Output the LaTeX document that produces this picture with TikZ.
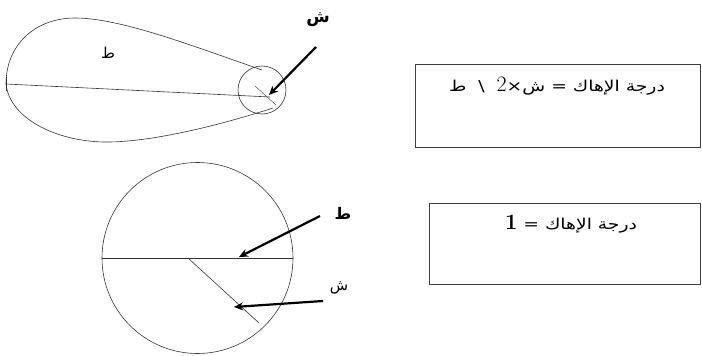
\documentclass[tikz,border=0pt]{standalone}
\usepackage{fontspec}
\usetikzlibrary{arrows.meta}
\newfontfamily\arabicfont[Script=Arabic]{DejaVu Sans}
\newfontfamily\arabicwide[Script=Arabic,FakeStretch=1.25]{DejaVu Sans}
\TeXXeTstate=1
\tikzset{
  thin line/.style={draw=black!80, line width=0.6pt},
  fat arrow/.style={draw=black, line width=2.2pt, -{Stealth[length=9pt,width=8pt]}},
  eqbox/.style={draw=black!75, line width=0.9pt},
  lbl/.style={font=\arabicfont, inner sep=0pt},
}
\begin{document}
\begin{tikzpicture}[x=1pt,y=-1pt]
\useasboundingbox (0,0) rectangle (702,356);
% top figure: teardrop
\coordinate (L) at (6,84);
\coordinate (TR) at (262,70);
\coordinate (BR) at (273,108);
\draw[thin line] (L) .. controls (6,45) and (35,18) .. (75,18)
   .. controls (120,18) and (190,45) .. (TR);
\draw[thin line] (L) .. controls (10,120) and (60,143) .. (110,142)
   .. controls (160,141) and (230,122) .. (BR);
\draw[thin line] (6,77) -- (6,91);
\node[thin line, circle, minimum size=48pt, inner sep=0pt] (sc) at (262,90) {};
\coordinate (de) at (270,97);
\draw[thin line] (L) -- (de);
\coordinate (sa) at (255,86);
\coordinate (sb) at (276,105);
\draw[thin line, line width=0.4pt] (sa) -- (sb);
\node[lbl, font=\arabicfont\bfseries\fontsize{17}{20}\selectfont] (sh1) at (318,20) {\beginR ش\endR};
\coordinate (a1s) at (316,47);
\coordinate (a1e) at (269,95);
\draw[fat arrow] (a1s) -- (a1e);
\node[lbl, font=\arabicfont\fontsize{15}{17}\selectfont] (t1) at (108,53) {\beginR ط\endR};
% bottom figure: circle
\node[thin line, circle, minimum size=191pt, inner sep=0pt] (bc) at (197.5,258) {};
\coordinate (dl) at (102,258);
\coordinate (dr) at (293,258);
\draw[thin line] (dl) -- (dr);
\coordinate (rs) at (188,258);
\coordinate (re) at (259,323);
\draw[thin line] (rs) -- (re);
\coordinate (a2s) at (320,216);
\coordinate (a2e) at (239,257);
\draw[fat arrow] (a2s) -- (a2e);
\node[lbl, font=\arabicfont\bfseries\fontsize{16}{19}\selectfont] (t2) at (343,213) {\beginR ط\endR};
\coordinate (a3s) at (323,301);
\coordinate (a3e) at (234,307);
\draw[fat arrow] (a3s) -- (a3e);
\node[lbl, font=\arabicfont\fontsize{15}{17}\selectfont] (sh2) at (339,288) {\beginR ش\endR};
% boxes
\node[eqbox, minimum width=285pt, minimum height=83pt, anchor=north west, inner sep=0pt] (box1) at (415,64) {};
\node[lbl, font=\arabicwide\fontsize{15}{18}\selectfont] (eq1) at (557,86) {\beginR درجة الإهاك = ش×{\rmfamily\fontsize{22}{24}\selectfont\beginL 2\endL}\ \ \textbackslash\ \ ط\endR};
\node[eqbox, minimum width=271pt, minimum height=81pt, anchor=north west, inner sep=0pt] (box2) at (429,203) {};
\node[lbl, font=\arabicwide\fontsize{15}{18}\selectfont] (eq2) at (571,224) {\beginR درجة الإهاك = {\rmfamily\bfseries\fontsize{22}{24}\selectfont\beginL 1\endL}\endR};
\end{tikzpicture}
\end{document}
